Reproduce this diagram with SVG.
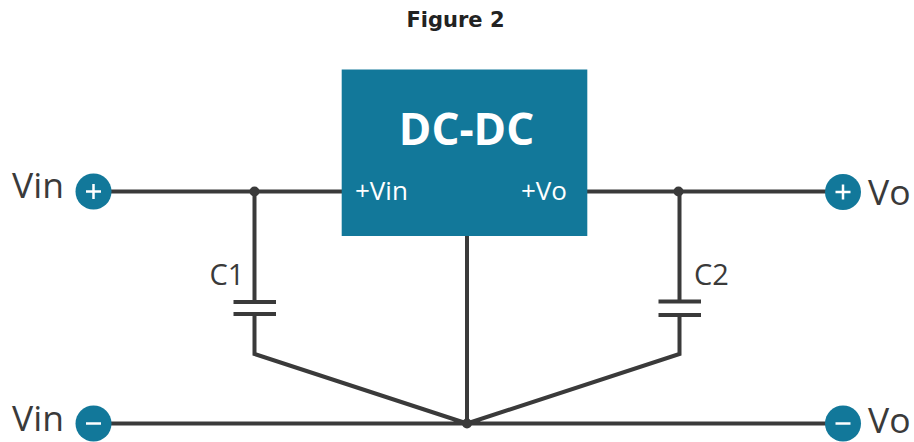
<svg xmlns="http://www.w3.org/2000/svg" width="914" height="442" viewBox="0 0 914 442">
<style>
.w{fill:none;stroke:#3a3a3a;stroke-width:4}
.d{fill:#3a3a3a}
.t{font-family:"Open Sans","Noto Sans",sans-serif;fill:#3a3a3a;font-weight:500}
.b{fill:#12789a}
.s{stroke:#fff;stroke-width:2.5;fill:none}
.o{font-family:"Open Sans",sans-serif;font-size:26px;font-weight:500;fill:#fff}
</style>
<rect width="914" height="442" fill="#fff"/>
<text x="455.500" y="27" text-anchor="middle" style="font-family:'DejaVu Sans',Verdana,sans-serif;font-weight:700;font-size:21px;fill:#222">Figure 2</text>
<g id="connectors">
<path class="w" d="M93 191.500H342M587 191.500H843M254.500 191.500V302M233.500 302H276M233.500 314H276M254.500 314V354L467 423.500M467 236V423.500M679.500 191.500V301.500M658.500 301.500H701M658.500 315H701M679.500 315V354L467 423.500M93 423.500H843"/>
<circle class="d" cx="254.500" cy="191.500" r="5"/><circle class="d" cx="678.500" cy="191.500" r="5"/><circle class="d" cx="467" cy="423.500" r="5"/>
</g>
<g id="dcdc">
<rect class="b" x="341.700" y="69.500" width="245.600" height="166.500"/>
<text x="466.500" y="144.500" text-anchor="middle" style="font-family:'Open Sans',sans-serif;font-weight:700;font-size:44px;fill:#fff">DC-DC</text>
<text class="o" x="355" y="199.500">+Vin</text>
<text class="o" x="567" y="199.500" text-anchor="end">+Vo</text>
</g>
<g id="vin-plus"><circle class="b" cx="93.500" cy="191.500" r="18"/><path class="s" d="M86 191.500H101M93.500 184V199"/><text class="t" x="12" y="198" font-size="35.500">Vin</text></g>
<g id="vo-plus"><circle class="b" cx="843" cy="192" r="18"/><path class="s" d="M835.500 192H850.500M843 184.500V199.500"/><text class="t" x="868" y="204.500" font-size="35.500">Vo</text></g>
<g id="vin-minus"><circle class="b" cx="93.500" cy="423.500" r="18"/><path class="s" d="M86 423.500H101"/><text class="t" x="12" y="431" font-size="35.500">Vin</text></g>
<g id="vo-minus"><circle class="b" cx="843" cy="423.500" r="18"/><path class="s" d="M835.500 423.500H850.500"/><text class="t" x="868" y="433" font-size="35.500">Vo</text></g>
<g id="c1"><text class="t" x="209.500" y="285" font-size="29">C1</text></g>
<g id="c2"><text class="t" x="694" y="285" font-size="29">C2</text></g>
</svg>
